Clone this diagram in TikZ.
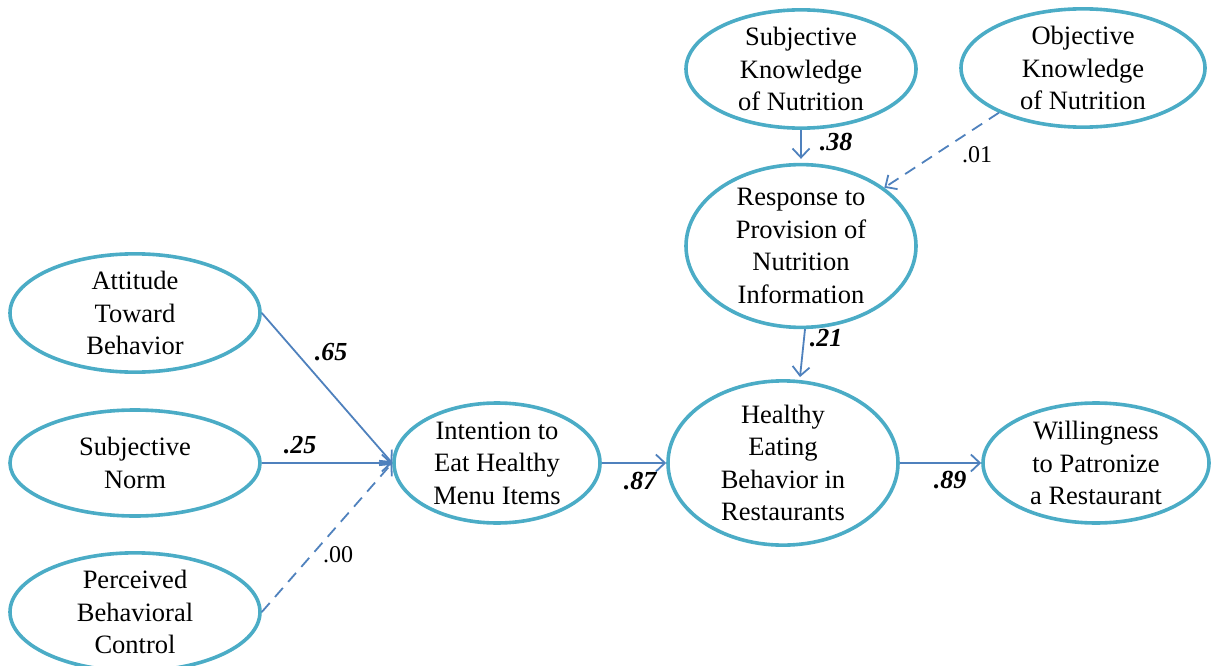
\documentclass[tikz,border=0pt]{standalone}
\usepackage{fontspec}
\setmainfont{Liberation Serif}
\usetikzlibrary{shapes.geometric,arrows.meta}
\definecolor{ringc}{HTML}{4BACC6}
\definecolor{pathc}{HTML}{4F81BD}
\begin{document}
\begin{tikzpicture}[x=1pt,y=-1pt,
  construct/.style={ellipse, draw=ringc, line width=3.6pt, inner sep=0pt,
    align=center, font=\fontsize{26.5}{32.5}\selectfont},
  path arrow/.style={draw=pathc, line width=1.8pt,
    -{Straight Barb[length=9pt,width=17pt,line width=1.8pt]}},
  weak arrow/.style={path arrow, dash pattern=on 12pt off 8pt},
  coef/.style={font=\fontsize{26}{30}\selectfont\bfseries\itshape},
  weak coef/.style={font=\fontsize{24}{28}\selectfont}]
\path[use as bounding box] (0,0) rectangle (1213,666);

% exogenous constructs
\node[construct, minimum width=250pt, minimum height=110pt] (att) at (135,313) {Attitude\\Toward\\Behavior};
\node[construct, minimum width=250pt, minimum height=106pt] (norm) at (135,463) {Subjective\\Norm};
\node[construct, minimum width=250pt, minimum height=108pt] (pbc) at (135,612) {Perceived\\Behavioral\\Control};
\node[construct, minimum width=230pt, minimum height=113pt] (sk) at (801,69) {Subjective\\Knowledge\\of Nutrition};
\node[construct, minimum width=244pt, minimum height=110pt] (ok) at (1083,68) {Objective\\Knowledge\\of Nutrition};

% mediators and outcomes
\node[construct, minimum width=230pt, minimum height=153pt] (resp) at (801,246) {Response to\\Provision of\\Nutrition\\Information};
\node[construct, minimum width=206pt, minimum height=120pt] (int) at (497,463) {Intention to\\Eat Healthy\\Menu Items};
\node[construct, minimum width=230pt, minimum height=150pt] (he) at (783,463) {Healthy\\Eating\\Behavior in\\Restaurants};
\node[construct, minimum width=226pt, minimum height=120pt] (will) at (1096,463) {Willingness\\to Patronize\\a Restaurant};

% structural paths
\draw[path arrow] (att.east) -- (int.west);
\draw[path arrow] (norm.east) -- (int.west);
\draw[weak arrow] (pbc.east) -- (int.west);
\draw[path arrow] (int.east) -- (he.west);
\draw[path arrow] (he.east) -- (will.west);
\draw[path arrow] (sk.south) -- ([yshift=4pt]resp.north);
\draw[weak arrow] (ok.208) -- (resp.35);
\draw[path arrow] ([xshift=4pt]resp.south) -- ([xshift=17pt,yshift=2pt]he.north);

% path coefficients
\node[coef] (c65) at (331,352) {.65};
\node[coef] (c25) at (300,445) {.25};
\node[weak coef] (c00) at (338,555) {.00};
\node[coef] (c87) at (640,481) {.87};
\node[coef] (c89) at (950,480) {.89};
\node[coef] (c38) at (836,142) {.38};
\node[weak coef] (c01) at (977,155) {.01};
\node[coef] (c21) at (826,338) {.21};
\end{tikzpicture}
\end{document}
